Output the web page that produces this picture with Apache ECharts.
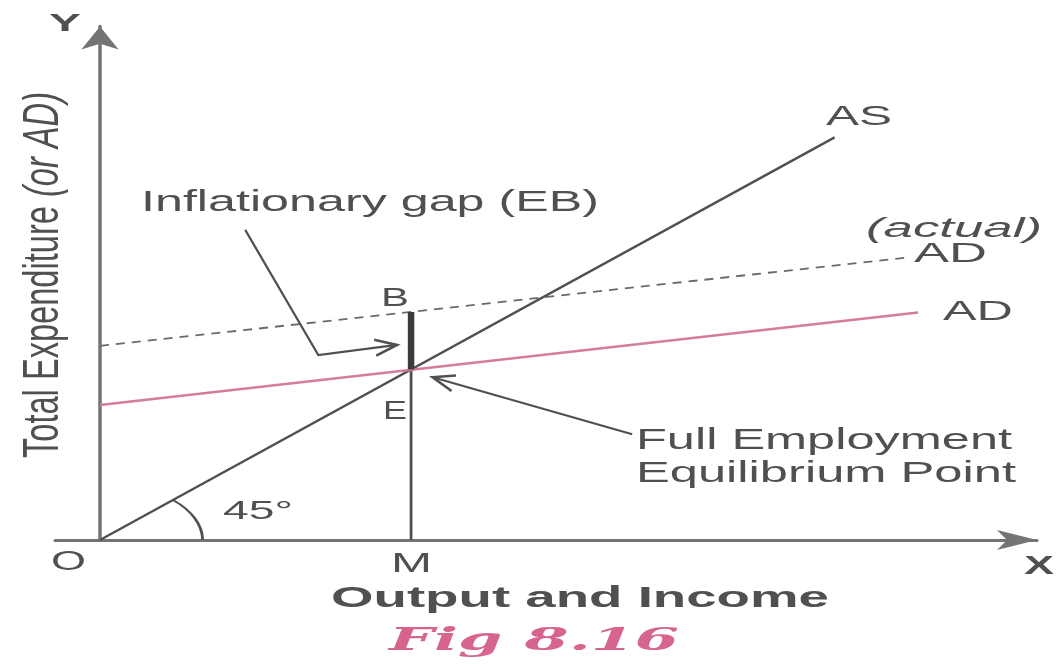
<!DOCTYPE html>
<html>
<head>
<meta charset="utf-8">
<script src="https://cdn.jsdelivr.net/npm/echarts@6/dist/echarts.min.js"></script>
<style>
  html, body { margin: 0; padding: 0; background: #ffffff; }
  #chart { width: 1064px; height: 664px; }
</style>
</head>
<body>
<div id="chart"></div>
<script>
// ---- Model: output (x) against total expenditure (y), in index units ----
const asLine = [[0, 0], [78.4, 78.4]];              // 45° aggregate supply line
const adLine = [[0, 26.3], [87.3, 44.3]];           // planned aggregate demand
const adActualLine = [[0, 37.8], [86.1, 55.0]];     // actual aggregate demand
const fullEmploymentOutput = 33.2;                  // M
const equilibriumSpending = 33.2;                   // E (AS = AD at M)
const actualSpending = 44.4;                        // B (actual AD at M)
const mLine = [[fullEmploymentOutput, 0], [fullEmploymentOutput, equilibriumSpending]];
const gapBar = [[fullEmploymentOutput, equilibriumSpending], [fullEmploymentOutput, actualSpending]];

// pointer arrows (tail ... tip), in the same units
const gapPointer = [[15.5, 60.4], [23.3, 36.0], [31.7, 38.0]];
const equilibriumPointer = [[56.8, 20.6], [35.5, 31.7]];

// ---- styling ----
const INK = '#505050';
const AXIS = '#747474';
const PINK = '#d47d98';
const SANS = '"Liberation Sans", Arial, sans-serif';
const SERIF = '"DejaVu Serif", "Liberation Serif", serif';
const STRETCH = 1.8;       // horizontal stretch of the drawing (angle arc)

// text annotations: left edge, vertical centre of capitals, target width
const labels = [
  { text: 'Y', x: 49, y: 24, w: 32, size: 24, weight: 'bold' },
  { text: 'X', x: 1024, y: 567, w: 30, size: 26, weight: 'bold' },
  { text: 'O', x: 51, y: 563, w: 35, size: 27 },
  { text: 'M', x: 391, y: 564, w: 41, size: 28 },
  { text: 'Output and Income', x: 331, y: 599, w: 498, size: 29, weight: 'bold' },
  { text: 'Fig 8.16', x: 389, y: 642, w: 290, size: 32, weight: 'bold', style: 'italic', family: SERIF, color: '#d6648f' },
  { text: 'Inflationary gap (EB)', x: 141, y: 203, w: 458, size: 29 },
  { text: 'AS', x: 826, y: 117, w: 66, size: 28 },
  { text: '(actual)', x: 866, y: 229, w: 176, size: 27, style: 'italic' },
  { text: 'AD', x: 914, y: 254, w: 73, size: 28 },
  { text: 'AD', x: 943, y: 312, w: 70, size: 28 },
  { text: 'B', x: 381, y: 299, w: 28, size: 25 },
  { text: 'E', x: 383, y: 412, w: 24, size: 26 },
  { text: 'Full Employment', x: 636, y: 441, w: 376, size: 30 },
  { text: 'Equilibrium Point', x: 636, y: 474, w: 380, size: 30 },
  { text: '45°', x: 223, y: 512, w: 70, size: 25 }
];

const measureCtx = document.createElement('canvas').getContext('2d');
function fontOf(l) {
  return (l.style || 'normal') + ' ' + (l.weight || 'normal') + ' ' + l.size + 'px ' + (l.family || SANS);
}
function textWidth(str, font) {
  measureCtx.font = font;
  return measureCtx.measureText(str).width;
}

const labelGraphics = labels.map(function (l) {
  const font = fontOf(l);
  return {
    type: 'text',
    x: l.x, y: l.y,
    scaleX: l.w / textWidth(l.text, font),
    silent: true,
    z: 100,
    style: {
      text: l.text, font: font, fill: l.color || INK,
      textAlign: 'left', textVerticalAlign: 'middle',
      align: 'left', verticalAlign: 'middle'
    }
  };
});

// rotated y-axis title with italic "(or AD)"
const titleSize = 31;
const titleMain = 'Total Expenditure ';
const titleItalic = '(or AD)';
const titleLen = textWidth(titleMain, 'normal normal ' + titleSize + 'px ' + SANS) +
                 textWidth(titleItalic, 'italic normal ' + titleSize + 'px ' + SANS);
labelGraphics.push({
  type: 'text',
  x: 44, y: 275,
  rotation: Math.PI / 2,
  scaleX: 366 / titleLen,
  scaleY: 1.6,
  silent: true,
  z: 100,
  style: {
    text: '{n|' + titleMain + '}{i|' + titleItalic + '}',
    fontSize: titleSize, fontFamily: SANS, fill: INK,
    textAlign: 'center', textVerticalAlign: 'middle',
    align: 'center', verticalAlign: 'middle',
    rich: {
      n: { fontSize: titleSize, fontFamily: SANS, fill: INK },
      i: { fontSize: titleSize, fontFamily: SANS, fontStyle: 'italic', fill: INK }
    }
  }
});

function lineSeries(data, color, width, type, z) {
  return {
    type: 'line', data: data, showSymbol: false, silent: true, z: z || 2,
    lineStyle: { color: color, width: width, type: type || 'solid', cap: 'butt' }
  };
}

// chevron arrow head at the end of a pixel polyline
function chevron(pts, len, half) {
  const a = pts[pts.length - 1], b = pts[pts.length - 2];
  const dx = a[0] - b[0], dy = a[1] - b[1];
  const d = Math.sqrt(dx * dx + dy * dy);
  const ux = dx / d, uy = dy / d, nx = -uy, ny = ux;
  return [
    [a[0] - ux * len + nx * half, a[1] - uy * len + ny * half],
    a,
    [a[0] - ux * len - nx * half, a[1] - uy * len - ny * half]
  ];
}

const annotationSeries = {
  type: 'custom',
  coordinateSystem: 'cartesian2d',
  clip: false,
  silent: true,
  z: 5,
  data: [[0, 0]],
  renderItem: function (params, api) {
    const o = api.coord([0, 0]);
    const e = api.coord(asLine[1]);
    const start = Math.atan2(e[1] - o[1], (e[0] - o[0]) / STRETCH);
    const children = [{
      type: 'arc',
      x: o[0], y: o[1], scaleX: STRETCH,
      shape: { cx: 0, cy: 0, r: 57, startAngle: start, endAngle: 0, clockwise: true },
      style: { stroke: INK, lineWidth: 1.6, fill: null }
    }];
    [gapPointer, equilibriumPointer].forEach(function (path) {
      const pts = path.map(function (p) { return api.coord(p); });
      children.push({
        type: 'polyline', shape: { points: pts },
        style: { stroke: INK, lineWidth: 2.2, fill: null, lineJoin: 'miter' }
      });
      children.push({
        type: 'polyline', shape: { points: chevron(pts, 22, 8) },
        style: { stroke: INK, lineWidth: 2.6, fill: null, lineJoin: 'miter' }
      });
    });
    return { type: 'group', children: children };
  }
};

const chart = echarts.init(document.getElementById('chart'));
chart.setOption({
  animation: false,
  backgroundColor: '#ffffff',
  grid: { left: 55, right: 27, top: 26.5, bottom: 124, containLabel: false },
  xAxis: {
    type: 'value', min: -4.8, max: 100,
    axisLine: {
      show: true, onZero: true,
      symbol: ['none', 'arrow'], symbolSize: [15, 40],
      lineStyle: { color: AXIS, width: 3 }
    },
    axisTick: { show: false }, axisLabel: { show: false }, splitLine: { show: false }
  },
  yAxis: {
    type: 'value', min: 0, max: 100,
    axisLine: {
      show: true, onZero: true,
      symbol: ['none', 'arrow'], symbolSize: [28, 23],
      lineStyle: { color: AXIS, width: 3.5 }
    },
    axisTick: { show: false }, axisLabel: { show: false }, splitLine: { show: false }
  },
  series: [
    lineSeries(asLine, INK, 2.4, 'solid', 3),
    lineSeries(adActualLine, '#6a6a6a', 1.8, [9, 7], 2),
    lineSeries(adLine, PINK, 2.5, 'solid', 4),
    lineSeries(mLine, INK, 2.8, 'solid', 3),
    lineSeries(gapBar, '#3c3c3c', 6.5, 'solid', 6),
    annotationSeries
  ],
  graphic: labelGraphics
});
</script>
</body>
</html>
